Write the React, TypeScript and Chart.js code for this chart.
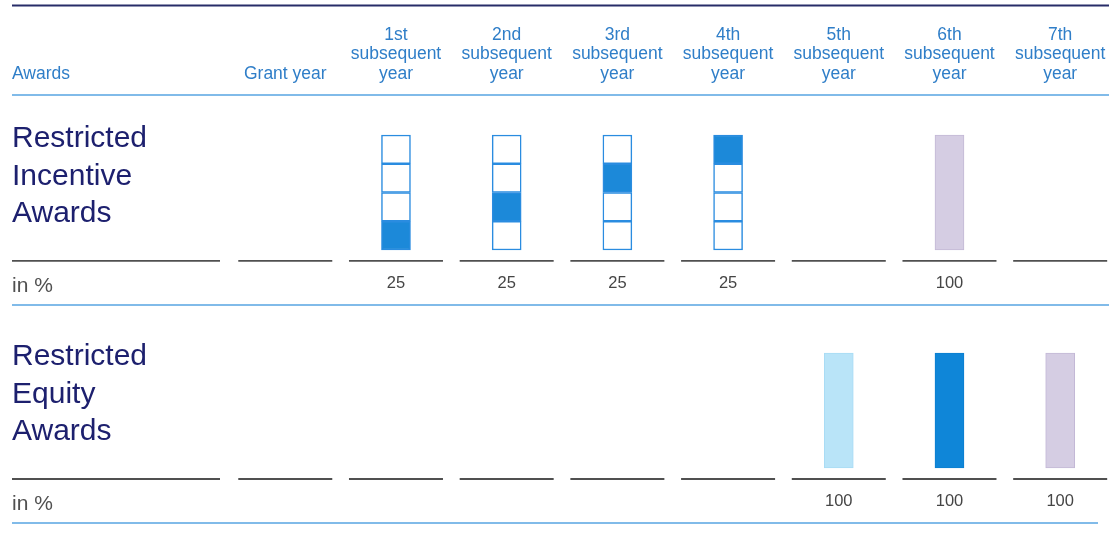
import React, { useEffect, useRef } from 'react';
import { Chart, registerables } from 'chart.js';

Chart.register(...registerables);

// ---------- data ----------
const headerLabels: string[][] = [
  ['Grant year'],
  ['1st', 'subsequent', 'year'],
  ['2nd', 'subsequent', 'year'],
  ['3rd', 'subsequent', 'year'],
  ['4th', 'subsequent', 'year'],
  ['5th', 'subsequent', 'year'],
  ['6th', 'subsequent', 'year'],
  ['7th', 'subsequent', 'year'],
];
const firstColumnTitle = 'Awards';
const unitLabel = 'in %';
const awardNames: string[][] = [
  ['Restricted', 'Incentive', 'Awards'],
  ['Restricted', 'Equity', 'Awards'],
];
// Restricted Incentive Awards: tranches vesting in subsequent years 1-4
const riaTrancheYears = [1, 2, 3, 4];
const riaTranches = [25, 25, 25, 25];
// Restricted Incentive Awards: retention
const riaRetentionYears = [6];
const riaRetentionValues = [100];
// Restricted Equity Awards
const reaYears = [5, 6, 7];
const reaValues = [100, 100, 100];

// ---------- styles / layout ----------
const W = 1109;
const H = 541;
const X_MIN = -2.577;
const X_MAX = 7.441;
const Y_MIN = -63.47;
const Y_MAX = 406.96;
const ROW_BASES = [189.6, 0];
const BAR_W = 29;

const BLUE_TEXT = '#2f7ec8';
const NAVY = '#1d206e';
const BOX_BORDER = '#2a8ce0';
const BOX_FILL = '#1c89d9';
const LAVENDER = '#d5cde3';
const LAVENDER_BORDER = '#c3b8d6';
const reaColors = ['#b9e4f8', '#0f86d8', LAVENDER];
const reaBorders = ['#a8dcf5', '#0d7fd0', LAVENDER_BORDER];
const GREY_LINE = '#505050';
const BLUE_LINE = '#57a4e2';
const FONT = '"Liberation Sans", Arial, Helvetica, sans-serif';

const decorPlugin = {
  id: 'decor',
  beforeDatasetsDraw(chart: any) {
    const ctx: CanvasRenderingContext2D = chart.ctx;
    const xs = chart.scales.x;
    const ys = chart.scales.y;
    const line = (x1: number, y1: number, x2: number, y2: number, c: string, w: number) => {
      ctx.beginPath();
      ctx.strokeStyle = c;
      ctx.lineWidth = w;
      ctx.moveTo(x1, y1);
      ctx.lineTo(x2, y2);
      ctx.stroke();
    };
    ctx.save();
    line(12, 5.5, W, 5.5, '#272c68', 2);
    line(12, 95, W, 95, BLUE_LINE, 1.6);
    ROW_BASES.forEach((b, r) => {
      const base = ys.getPixelForValue(b);
      const uy = base + 11;
      line(12, uy, 220, uy, GREY_LINE, 1.8);
      headerLabels.forEach((_, c) => {
        const cx = xs.getPixelForValue(c);
        line(cx - 47, uy, Math.min(cx + 47, W), uy, GREY_LINE, 1.8);
      });
      line(12, base + 55, r === 0 ? W : 1098, base + 55, BLUE_LINE, 1.6);
    });
    ctx.restore();
  },
  afterDatasetsDraw(chart: any) {
    const ctx: CanvasRenderingContext2D = chart.ctx;
    const xs = chart.scales.x;
    const ys = chart.scales.y;
    ctx.save();
    // header
    ctx.font = `17.5px ${FONT}`;
    ctx.fillStyle = BLUE_TEXT;
    ctx.textBaseline = 'middle';
    ctx.textAlign = 'left';
    ctx.fillText(firstColumnTitle, 12, 74);
    ctx.textAlign = 'center';
    headerLabels.forEach((lines, c) => {
      const cx = xs.getPixelForValue(c);
      lines.forEach((t, i) => {
        ctx.fillText(t, cx, 74 - (lines.length - 1 - i) * 19.5);
      });
    });
    // rows
    const rowNumbers: { x: number; v: number }[][] = [
      [
        ...riaTrancheYears.map((x, i) => ({ x, v: riaTranches[i] })),
        ...riaRetentionYears.map((x, i) => ({ x, v: riaRetentionValues[i] })),
      ],
      reaYears.map((x, i) => ({ x, v: reaValues[i] })),
    ];
    ROW_BASES.forEach((b, r) => {
      const base = ys.getPixelForValue(b);
      const top = ys.getPixelForValue(b + 100);
      ctx.textAlign = 'left';
      ctx.fillStyle = NAVY;
      ctx.font = `30px ${FONT}`;
      awardNames[r].forEach((t, i) => {
        ctx.fillText(t, 12, top + 4 + i * 37.5);
      });
      ctx.fillStyle = '#505050';
      ctx.font = `21px ${FONT}`;
      ctx.fillText(unitLabel, 12, base + 36);
      ctx.textAlign = 'center';
      ctx.fillStyle = '#454545';
      ctx.font = `16.5px ${FONT}`;
      rowNumbers[r].forEach((p) => {
        ctx.fillText(String(p.v), xs.getPixelForValue(p.x), base + 33.5);
      });
    });
    ctx.restore();
  },
};

export default function App() {
  const ref = useRef<HTMLCanvasElement | null>(null);
  useEffect(() => {
    if (!ref.current) return;
    const riaBase = ROW_BASES[0];
    const reaBase = ROW_BASES[1];
    const cum = [0];
    riaTranches.forEach((v) => cum.push(cum[cum.length - 1] + v));
    const trancheSets = riaTranches.map((_, k) => ({
      label: `RIA tranche ${k + 1}`,
      data: riaTrancheYears.map((yr) => ({ x: yr, y: [riaBase + cum[k], riaBase + cum[k + 1]] })),
      backgroundColor: riaTrancheYears.map((_, i) => (i === k ? BOX_FILL : '#ffffff')),
      borderColor: BOX_BORDER,
      borderWidth: 1.5,
      borderSkipped: false as const,
    }));
    const retentionSet = {
      label: 'RIA retention',
      data: riaRetentionYears.map((yr, i) => ({ x: yr, y: [riaBase, riaBase + riaRetentionValues[i]] })),
      backgroundColor: LAVENDER,
      borderColor: LAVENDER_BORDER,
      borderWidth: 1,
      borderSkipped: false as const,
    };
    const reaSet = {
      label: 'REA',
      data: reaYears.map((yr, i) => ({ x: yr, y: [reaBase, reaBase + reaValues[i]] })),
      backgroundColor: reaColors,
      borderColor: reaBorders,
      borderWidth: 1,
      borderSkipped: false as const,
    };
    const chart = new Chart(ref.current, {
      type: 'bar',
      data: { datasets: [...trancheSets, retentionSet, reaSet] as any },
      options: {
        animation: false,
        responsive: false,
        maintainAspectRatio: false,
        layout: { padding: 0 },
        datasets: { bar: { grouped: false, barThickness: BAR_W } } as any,
        plugins: { legend: { display: false }, tooltip: { enabled: false } },
        scales: {
          x: { type: 'linear', min: X_MIN, max: X_MAX, offset: false, display: false },
          y: { type: 'linear', min: Y_MIN, max: Y_MAX, display: false },
        },
      },
      plugins: [decorPlugin],
    });
    return () => chart.destroy();
  }, []);
  return (
    <div style={{ position: 'absolute', left: 0, top: 0, width: W, height: H, background: '#fff' }}>
      <canvas ref={ref} width={W} height={H} style={{ display: 'block', width: W, height: H }} />
    </div>
  );
}
